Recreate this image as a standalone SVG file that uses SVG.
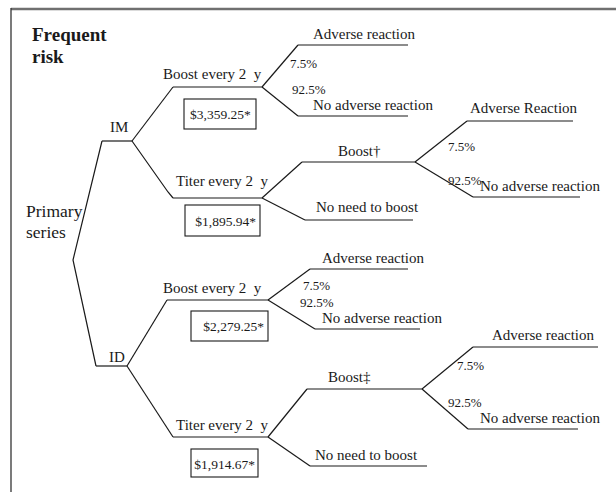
<svg xmlns="http://www.w3.org/2000/svg" width="616" height="492" viewBox="0 0 616 492">
<style>
text{font-family:"Liberation Serif","Times New Roman",serif;fill:#1a1a1a;}
.lbl{font-size:15px;}
.big{font-size:17.5px;}
.pct{font-size:13px;}
.cost{font-size:13.5px;}
.ttl{font-size:19px;font-weight:bold;}
.ln{stroke:#1a1a1a;stroke-width:1.2;fill:none;}
.box{stroke:#1a1a1a;stroke-width:1.1;fill:#fff;}
</style>
<rect width="616" height="492" fill="#fff"/>
<g id="frame">
<line x1="11" y1="9" x2="616" y2="9" stroke="#707070" stroke-width="2.5"/>
<line x1="11" y1="8" x2="11" y2="492" stroke="#333" stroke-width="1.3"/>
</g>
<g id="title">
<text class="ttl" x="32" y="41">Frequent</text>
<text class="ttl" x="32" y="63">risk</text>
</g>
<g id="connectors" class="ln">
<polyline points="102,141 73,260 96,366"/>
<polyline points="132,141 173,87"/>
<polyline points="132,141 168,192 173,198"/>
<polyline points="262,87 298,45"/>
<polyline points="262,87 298,116"/>
<polyline points="262,198 302,162"/>
<polyline points="262,198 305,220"/>
<polyline points="415,162 467,121"/>
<polyline points="415,162 473,197"/>
<polyline points="127,366 167,300"/>
<polyline points="127,366 173,437"/>
<polyline points="268,300 310,269"/>
<polyline points="268,300 315,329"/>
<polyline points="268,437 307,389"/>
<polyline points="268,437 310,466"/>
<polyline points="422,389 473,347"/>
<polyline points="422,389 468,429"/>
</g>
<g id="primary">
<text class="big" x="26" y="217">Primary</text>
<text class="big" x="26" y="238">series</text>
</g>
<g id="im">
<text class="lbl" x="110" y="132">IM</text>
<line class="ln" x1="102" y1="141" x2="132" y2="141"/>
</g>
<g id="id">
<text class="lbl" x="109" y="362">ID</text>
<line class="ln" x1="96" y1="366" x2="127" y2="366"/>
</g>
<g id="im-boost">
<text class="lbl" x="163" y="79">Boost every 2&#160; y</text>
<line class="ln" x1="173" y1="87" x2="262" y2="87"/>
<rect class="box" x="184" y="99" width="72" height="30"/>
<text class="cost" x="190" y="119">$3,359.25*</text>
</g>
<g id="im-titer">
<text class="lbl" x="176" y="186">Titer every 2&#160; y</text>
<line class="ln" x1="173" y1="198" x2="262" y2="198"/>
<rect class="box" x="185" y="205" width="75" height="31"/>
<text class="cost" x="256" y="226" text-anchor="end">$1,895.94*</text>
</g>
<g id="im-boost-adv">
<text class="lbl" x="313" y="39">Adverse reaction</text>
<line class="ln" x1="298" y1="45" x2="408" y2="45"/>
<text class="pct" x="290" y="68">7.5%</text>
</g>
<g id="im-boost-noadv">
<text class="pct" x="292" y="94">92.5%</text>
<text class="lbl" x="313" y="110">No adverse reaction</text>
<line class="ln" x1="298" y1="116" x2="408" y2="116"/>
</g>
<g id="im-titer-boost">
<text class="lbl" x="338" y="156">Boost†</text>
<line class="ln" x1="302" y1="162" x2="415" y2="162"/>
</g>
<g id="im-titer-noneed">
<text class="lbl" x="316" y="212">No need to boost</text>
<line class="ln" x1="305" y1="220" x2="413" y2="220"/>
</g>
<g id="im-titer-boost-adv">
<text class="lbl" x="470" y="113">Adverse Reaction</text>
<line class="ln" x1="467" y1="121" x2="573" y2="121"/>
<text class="pct" x="448" y="151">7.5%</text>
</g>
<g id="im-titer-boost-noadv">
<text class="pct" x="448" y="185">92.5%</text>
<text class="lbl" x="480" y="191">No adverse reaction</text>
<line class="ln" x1="473" y1="197" x2="580" y2="197"/>
</g>
<g id="id-boost">
<text class="lbl" x="163" y="293">Boost every 2&#160; y</text>
<line class="ln" x1="167" y1="300" x2="268" y2="300"/>
<rect class="box" x="191" y="311" width="77" height="30"/>
<text class="cost" x="264" y="331" text-anchor="end">$2,279.25*</text>
</g>
<g id="id-titer">
<text class="lbl" x="176" y="430">Titer every 2&#160; y</text>
<line class="ln" x1="173" y1="437" x2="268" y2="437"/>
<rect class="box" x="191" y="449" width="67" height="28"/>
<text class="cost" x="255" y="469" text-anchor="end">$1,914.67*</text>
</g>
<g id="id-boost-adv">
<text class="lbl" x="322" y="263">Adverse reaction</text>
<line class="ln" x1="310" y1="269" x2="408" y2="269"/>
<text class="pct" x="303" y="290">7.5%</text>
</g>
<g id="id-boost-noadv">
<text class="pct" x="300" y="307">92.5%</text>
<text class="lbl" x="322" y="323">No adverse reaction</text>
<line class="ln" x1="315" y1="329" x2="420" y2="329"/>
</g>
<g id="id-titer-boost">
<text class="lbl" x="328" y="382">Boost‡</text>
<line class="ln" x1="307" y1="389" x2="422" y2="389"/>
</g>
<g id="id-titer-noneed">
<text class="lbl" x="315" y="460">No need to boost</text>
<line class="ln" x1="310" y1="466" x2="427" y2="466"/>
</g>
<g id="id-titer-boost-adv">
<text class="lbl" x="492" y="340">Adverse reaction</text>
<line class="ln" x1="473" y1="347" x2="598" y2="347"/>
<text class="pct" x="457" y="370">7.5%</text>
</g>
<g id="id-titer-boost-noadv">
<text class="pct" x="448" y="407">92.5%</text>
<text class="lbl" x="480" y="423">No adverse reaction</text>
<line class="ln" x1="468" y1="429" x2="578" y2="429"/>
</g>
</svg>
